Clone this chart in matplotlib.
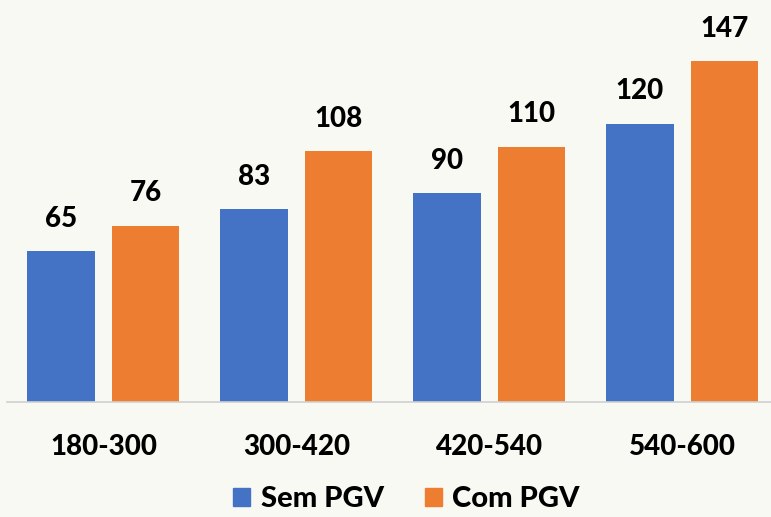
import matplotlib.pyplot as plt
import numpy as np
from matplotlib.patches import Patch

categories = ["180-300", "300-420", "420-540", "540-600"]
sem_pgv = [65, 83, 90, 120]
com_pgv = [76, 108, 110, 147]
series_names = ["Sem PGV", "Com PGV"]

plt.rcParams['font.family'] = ['Lato', 'DejaVu Sans']

blue = '#4472C4'
orange = '#ED7D31'
bg = '#F9F9F4'
wt = 'black'

fig = plt.figure(figsize=(7.71, 5.17), dpi=100, facecolor=bg)
ax = fig.add_axes([0, 0.2224, 1, 0.7776], facecolor=bg)

x = np.arange(len(categories))
w = 0.352
b1 = ax.bar(x - 0.22, sem_pgv, w, color=blue)
b2 = ax.bar(x + 0.218, com_pgv, w, color=orange)

for bars, vals in [(b1, sem_pgv), (b2, com_pgv)]:
    for r, v in zip(bars, vals):
        ax.annotate(str(v), (r.get_x() + r.get_width() / 2, v),
                    xytext=(0, 14), textcoords='offset points',
                    ha='center', va='bottom', fontsize=20, fontweight=wt)

ax.set_xlim(-0.536, 3.459)
ax.set_ylim(0, 173.3)
ax.set_yticks([])
ax.set_xticks(x)
ax.set_xticklabels(categories, fontsize=20, fontweight=wt)
ax.tick_params(axis='x', length=0, pad=23)
for s in ['top', 'right', 'left']:
    ax.spines[s].set_visible(False)
ax.spines['bottom'].set_color('#D0D0D0')
ax.spines['bottom'].set_linewidth(1.2)
ax.spines['bottom'].set_bounds(-0.5, 3.459)

handles = [Patch(color=blue), Patch(color=orange)]
fig.legend(handles, series_names, loc='center', bbox_to_anchor=(0.527, 0.034),
           ncol=2, frameon=False, prop={'size': 21, 'weight': wt},
           handlelength=0.6, handleheight=0.6, handletextpad=0.35, columnspacing=1.4,
           borderpad=0.1)

plt.savefig("out.png", dpi=100, facecolor=bg)
plt.close()
